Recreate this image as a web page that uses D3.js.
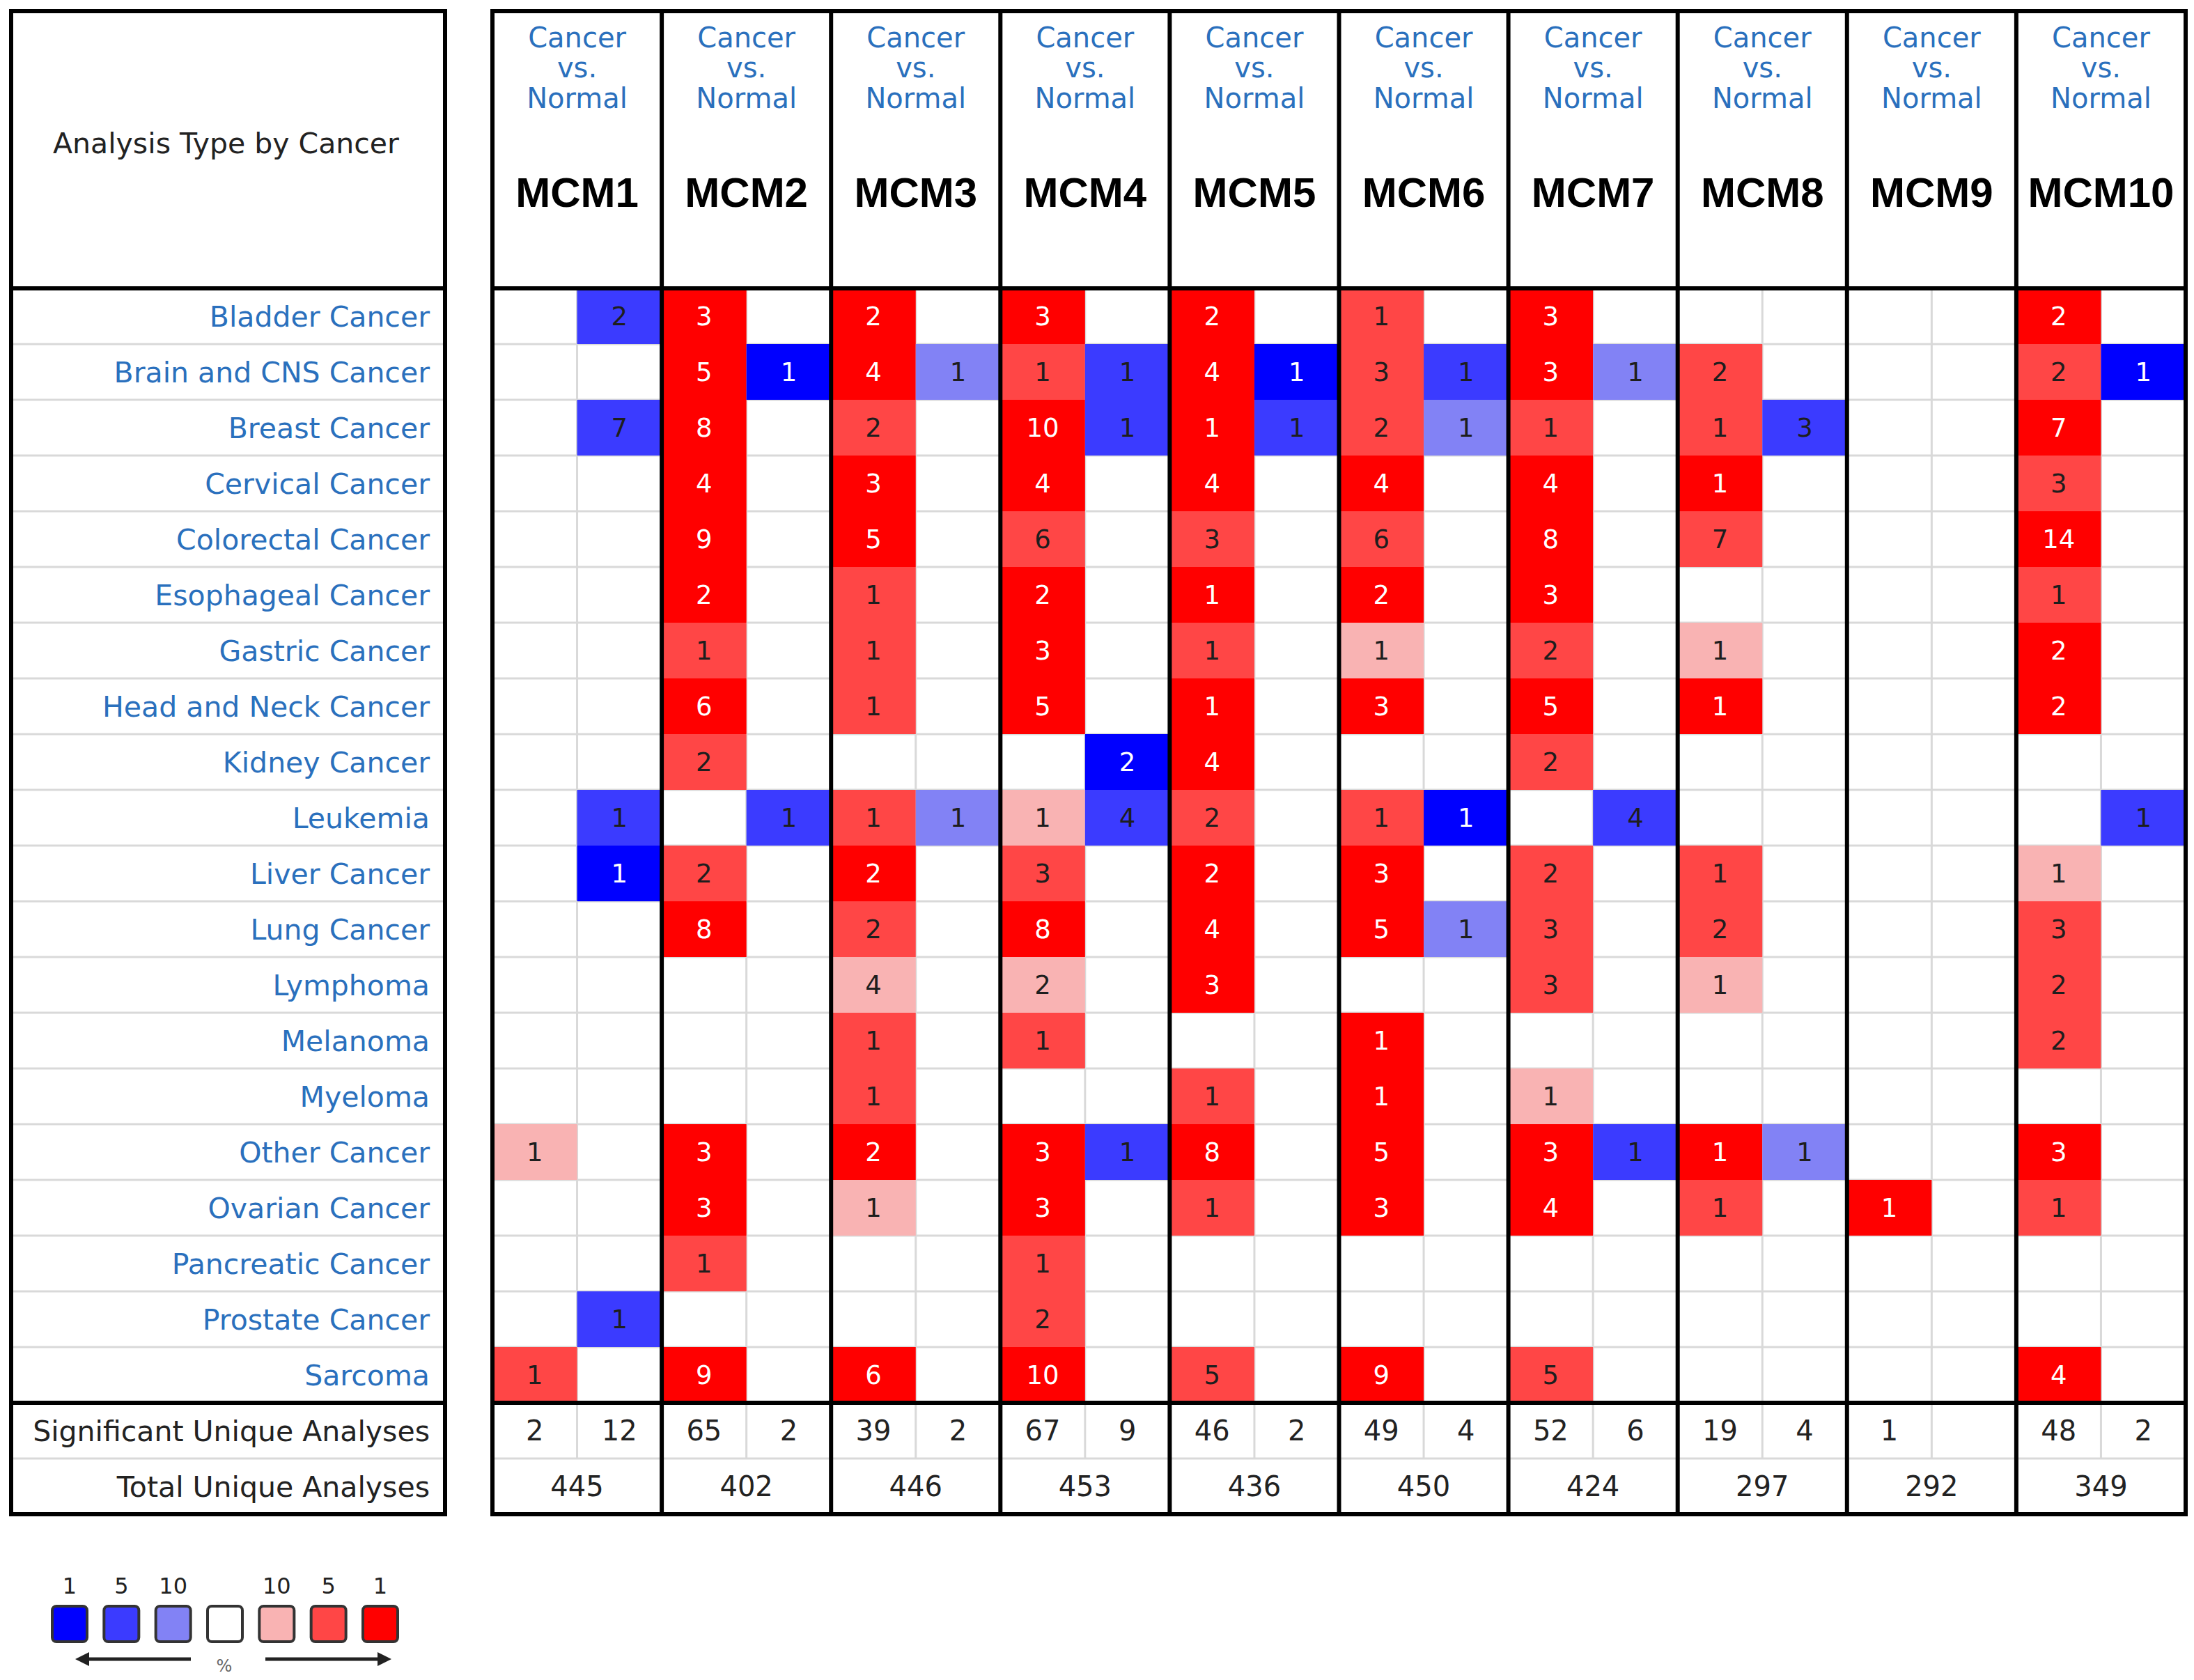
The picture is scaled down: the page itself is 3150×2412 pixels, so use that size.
<!DOCTYPE html>
<html><head><meta charset="utf-8">
<script src="https://cdn.jsdelivr.net/npm/d3@7"></script>
<style>body{margin:0;background:#fff}svg{display:block}</style>
</head><body><svg id="c" width="3150" height="2412"></svg>
<script>
// ---------------- DATA ----------------
const cancers = ["Bladder Cancer","Brain and CNS Cancer","Breast Cancer","Cervical Cancer","Colorectal Cancer",
  "Esophageal Cancer","Gastric Cancer","Head and Neck Cancer","Kidney Cancer","Leukemia",
  "Liver Cancer","Lung Cancer","Lymphoma","Melanoma","Myeloma",
  "Other Cancer","Ovarian Cancer","Pancreatic Cancer","Prostate Cancer","Sarcoma"];
const genes = ["MCM1","MCM2","MCM3","MCM4","MCM5","MCM6","MCM7","MCM8","MCM9","MCM10"];
const analysisLabel = ["Cancer","vs.","Normal"];

// number of significant analyses (over-expression), one row per gene, one value per cancer (0 = none)
const upCounts = [
  [0,0,0,0,0, 0,0,0,0,0, 0,0,0,0,0, 1,0,0,0,1],
  [3,5,8,4,9, 2,1,6,2,0, 2,8,0,0,0, 3,3,1,0,9],
  [2,4,2,3,5, 1,1,1,0,1, 2,2,4,1,1, 2,1,0,0,6],
  [3,1,10,4,6, 2,3,5,0,1, 3,8,2,1,0, 3,3,1,2,10],
  [2,4,1,4,3, 1,1,1,4,2, 2,4,3,0,1, 8,1,0,0,5],
  [1,3,2,4,6, 2,1,3,0,1, 3,5,0,1,1, 5,3,0,0,9],
  [3,3,1,4,8, 3,2,5,2,0, 2,3,3,0,1, 3,4,0,0,5],
  [0,2,1,1,7, 0,1,1,0,0, 1,2,1,0,0, 1,1,0,0,0],
  [0,0,0,0,0, 0,0,0,0,0, 0,0,0,0,0, 0,1,0,0,0],
  [2,2,7,3,14, 1,2,2,0,0, 1,3,2,2,0, 3,1,0,0,4]
];
// best gene rank percentile (1, 5, 10 %) for over-expression
const upRanks = [
  [0,0,0,0,0, 0,0,0,0,0, 0,0,0,0,0, 10,0,0,0,5],
  [1,1,1,1,1, 1,5,1,5,0, 5,1,0,0,0, 1,1,5,0,1],
  [1,1,5,1,1, 5,5,5,0,5, 1,5,10,5,5, 1,10,0,0,1],
  [1,5,1,1,5, 1,1,1,0,10, 5,1,10,5,0, 1,1,5,5,1],
  [1,1,1,1,5, 1,5,1,1,5, 1,1,1,0,5, 1,5,0,0,5],
  [5,5,5,1,5, 1,10,1,0,5, 1,1,0,1,1, 1,1,0,0,1],
  [1,1,5,1,1, 1,5,1,5,0, 5,5,5,0,10, 1,1,0,0,5],
  [0,5,5,1,5, 0,10,1,0,0, 5,5,10,0,0, 1,5,0,0,0],
  [0,0,0,0,0, 0,0,0,0,0, 0,0,0,0,0, 0,1,0,0,0],
  [1,5,1,5,1, 5,1,1,0,0, 10,5,5,5,0, 1,5,0,0,1]
];
// under-expression
const downCounts = [
  [2,0,7,0,0, 0,0,0,0,1, 1,0,0,0,0, 0,0,0,1,0],
  [0,1,0,0,0, 0,0,0,0,1, 0,0,0,0,0, 0,0,0,0,0],
  [0,1,0,0,0, 0,0,0,0,1, 0,0,0,0,0, 0,0,0,0,0],
  [0,1,1,0,0, 0,0,0,2,4, 0,0,0,0,0, 1,0,0,0,0],
  [0,1,1,0,0, 0,0,0,0,0, 0,0,0,0,0, 0,0,0,0,0],
  [0,1,1,0,0, 0,0,0,0,1, 0,1,0,0,0, 0,0,0,0,0],
  [0,1,0,0,0, 0,0,0,0,4, 0,0,0,0,0, 1,0,0,0,0],
  [0,0,3,0,0, 0,0,0,0,0, 0,0,0,0,0, 1,0,0,0,0],
  [0,0,0,0,0, 0,0,0,0,0, 0,0,0,0,0, 0,0,0,0,0],
  [0,1,0,0,0, 0,0,0,0,1, 0,0,0,0,0, 0,0,0,0,0]
];
const downRanks = [
  [5,0,5,0,0, 0,0,0,0,5, 1,0,0,0,0, 0,0,0,5,0],
  [0,1,0,0,0, 0,0,0,0,5, 0,0,0,0,0, 0,0,0,0,0],
  [0,10,0,0,0, 0,0,0,0,10, 0,0,0,0,0, 0,0,0,0,0],
  [0,5,5,0,0, 0,0,0,1,5, 0,0,0,0,0, 5,0,0,0,0],
  [0,1,5,0,0, 0,0,0,0,0, 0,0,0,0,0, 0,0,0,0,0],
  [0,5,10,0,0, 0,0,0,0,1, 0,10,0,0,0, 0,0,0,0,0],
  [0,10,0,0,0, 0,0,0,0,5, 0,0,0,0,0, 5,0,0,0,0],
  [0,0,5,0,0, 0,0,0,0,0, 0,0,0,0,0, 10,0,0,0,0],
  [0,0,0,0,0, 0,0,0,0,0, 0,0,0,0,0, 0,0,0,0,0],
  [0,1,0,0,0, 0,0,0,0,5, 0,0,0,0,0, 0,0,0,0,0]
];
const sigUp   = [2,65,39,67,46,49,52,19,1,48];
const sigDown = [12,2,2,9,2,4,6,4,null,2];
const totals  = [445,402,446,453,436,450,424,297,292,349];
const legendRanks = [1,5,10];
const footerLabels = ["Significant Unique Analyses","Total Unique Analyses"];

// ---------------- DRAW ----------------
const svg = d3.select("#c");
svg.append("rect").attr("width",3150).attr("height",2412).attr("fill","#fff");

const FONT = "'DejaVu Sans', Verdana, sans-serif";
const TITLEFONT = "'Liberation Sans', Arial, Helvetica, sans-serif";
const BLUE_TXT = "#2a70bd";
const THICK = 6, THIN = 3, GRID = "#d9d9d9";

const topY = 16, headBottom = 414, bottomY = 2174;
const leftX0 = 16, leftX1 = 639;
const rowKeys = cancers.concat(["__sig","__total"]);
const y = d3.scaleBand().domain(rowKeys).range([headBottom, bottomY]);
const x = d3.scaleBand().domain(genes).range([707, 3138]);
const sub = d3.scaleBand().domain(["up","down"]).range([0, x.bandwidth()]);
const upColor = d3.scaleOrdinal().domain(legendRanks).range(["#ff0000","#ff4646","#f9b3b3"]);
const downColor = d3.scaleOrdinal().domain(legendRanks).range(["#0000ff","#3b3bff","#8282f5"]);
const mainX0 = x.range()[0], mainX1 = x.range()[1];

// light grid lines (rows)
const gridG = svg.append("g").attr("stroke", GRID).attr("stroke-width", THIN);
rowKeys.slice(1).forEach(k => {
  if (k === "__sig") return;
  const yy = y(k);
  gridG.append("line").attr("x1",leftX0).attr("x2",leftX1).attr("y1",yy).attr("y2",yy);
  gridG.append("line").attr("x1",mainX0).attr("x2",mainX1).attr("y1",yy).attr("y2",yy);
});
// sub-column separators
genes.forEach(g => {
  const xm = x(g) + sub("down");
  gridG.append("line").attr("x1",xm).attr("x2",xm).attr("y1",headBottom).attr("y2",y("__total"));
});

// cells
const cells = [];
genes.forEach((g, gi) => {
  cancers.forEach((c, ci) => {
    if (upCounts[gi][ci] > 0) cells.push({g, c, dir:"up", n:upCounts[gi][ci], r:upRanks[gi][ci]});
    if (downCounts[gi][ci] > 0) cells.push({g, c, dir:"down", n:downCounts[gi][ci], r:downRanks[gi][ci]});
  });
});
const cellG = svg.append("g");
cellG.selectAll("rect").data(cells).join("rect")
  .attr("x", d => x(d.g) + sub(d.dir))
  .attr("y", d => y(d.c))
  .attr("width", sub.bandwidth())
  .attr("height", y.bandwidth())
  .attr("fill", d => d.dir === "up" ? upColor(d.r) : downColor(d.r));
cellG.selectAll("text").data(cells).join("text")
  .attr("x", d => x(d.g) + sub(d.dir) + sub.bandwidth()/2)
  .attr("y", d => y(d.c) + y.bandwidth()/2 + 13)
  .attr("text-anchor","middle")
  .attr("font-family", FONT).attr("font-size", 37)
  .attr("fill", d => d.r === 1 ? "#ffffff" : "#1e1e1e")
  .text(d => d.n);

// row labels
svg.append("g").selectAll("text").data(cancers).join("text")
  .attr("x", leftX1 - 22)
  .attr("y", d => y(d) + y.bandwidth()/2 + 15)
  .attr("text-anchor","end")
  .attr("font-family", FONT).attr("font-size", 41)
  .attr("fill", BLUE_TXT)
  .text(d => d);
svg.append("g").selectAll("text").data(footerLabels).join("text")
  .attr("x", leftX1 - 22)
  .attr("y", (d,i) => y(i === 0 ? "__sig" : "__total") + y.bandwidth()/2 + 15)
  .attr("text-anchor","end")
  .attr("font-family", FONT).attr("font-size", 41)
  .attr("fill", "#222")
  .text(d => d);

// header (left)
svg.append("text").attr("x",(leftX0+leftX1)/2 - 3).attr("y",220)
  .attr("text-anchor","middle").attr("font-family",FONT).attr("font-size",41).attr("fill","#222")
  .text("Analysis Type by Cancer");

// header (genes)
const headG = svg.append("g").selectAll("g").data(genes).join("g")
  .attr("transform", d => `translate(${x(d) + x.bandwidth()/2},0)`);
[68, 111, 155].forEach((by, i) => {
  headG.append("text").attr("y", by).attr("text-anchor","middle")
    .attr("font-family",FONT).attr("font-size",40).attr("fill",BLUE_TXT)
    .text(analysisLabel[i]);
});
headG.append("text").attr("y", 297).attr("text-anchor","middle")
  .attr("font-family",TITLEFONT).attr("font-weight","bold").attr("font-size",60).attr("fill","#000")
  .text(d => d);

// footer values
const footG = svg.append("g").attr("font-family",FONT).attr("font-size",40).attr("fill","#222").attr("text-anchor","middle");
genes.forEach((g, gi) => {
  const ys = y("__sig") + y.bandwidth()/2 + 14;
  const yt = y("__total") + y.bandwidth()/2 + 14;
  if (sigUp[gi] != null) footG.append("text").attr("x", x(g)+sub("up")+sub.bandwidth()/2).attr("y", ys).text(sigUp[gi]);
  if (sigDown[gi] != null) footG.append("text").attr("x", x(g)+sub("down")+sub.bandwidth()/2).attr("y", ys).text(sigDown[gi]);
  footG.append("text").attr("x", x(g)+x.bandwidth()/2).attr("y", yt).text(totals[gi]);
});

// thick lines
const thickG = svg.append("g").attr("stroke","#000").attr("stroke-width",THICK).attr("fill","none");
thickG.append("rect").attr("x",leftX0).attr("y",topY).attr("width",leftX1-leftX0).attr("height",bottomY-topY);
thickG.append("rect").attr("x",mainX0).attr("y",topY).attr("width",mainX1-mainX0).attr("height",bottomY-topY);
[headBottom, y("__sig")].forEach(yy => {
  thickG.append("line").attr("x1",leftX0).attr("x2",leftX1).attr("y1",yy).attr("y2",yy);
  thickG.append("line").attr("x1",mainX0).attr("x2",mainX1).attr("y1",yy).attr("y2",yy);
});
genes.slice(1).forEach(g => {
  thickG.append("line").attr("x1",x(g)).attr("x2",x(g)).attr("y1",topY).attr("y2",bottomY);
});

// legend
const lx = d3.scalePoint().domain(d3.range(7)).range([100, 546]);
const legendItems = [
  {c: downColor(1), t: "1"}, {c: downColor(5), t: "5"}, {c: downColor(10), t: "10"},
  {c: "#ffffff", t: ""},
  {c: upColor(10), t: "10"}, {c: upColor(5), t: "5"}, {c: upColor(1), t: "1"}
];
const legG = svg.append("g");
legG.selectAll("rect").data(legendItems).join("rect")
  .attr("x",(d,i)=>lx(i)-25).attr("y",2306).attr("width",50).attr("height",51)
  .attr("rx",6).attr("fill",d=>d.c).attr("stroke","#333").attr("stroke-width",4);
legG.selectAll("text.l").data(legendItems).join("text").attr("class","l")
  .attr("x",(d,i)=>lx(i)).attr("y",2288).attr("text-anchor","middle")
  .attr("font-family",FONT).attr("font-size",32).attr("fill","#222").text(d=>d.t);
legG.append("line").attr("x1",122).attr("x2",274).attr("y1",2382).attr("y2",2382).attr("stroke","#222").attr("stroke-width",5);
legG.append("path").attr("d","M108,2382 L128,2372 L128,2392 Z").attr("fill","#222");
legG.append("line").attr("x1",381).attr("x2",548).attr("y1",2382).attr("y2",2382).attr("stroke","#222").attr("stroke-width",5);
legG.append("path").attr("d","M562,2382 L542,2372 L542,2392 Z").attr("fill","#222");
legG.append("text").attr("x",322).attr("y",2400).attr("text-anchor","middle")
  .attr("font-family",FONT).attr("font-size",24).attr("fill","#666").text("%");
</script>
</body></html>
